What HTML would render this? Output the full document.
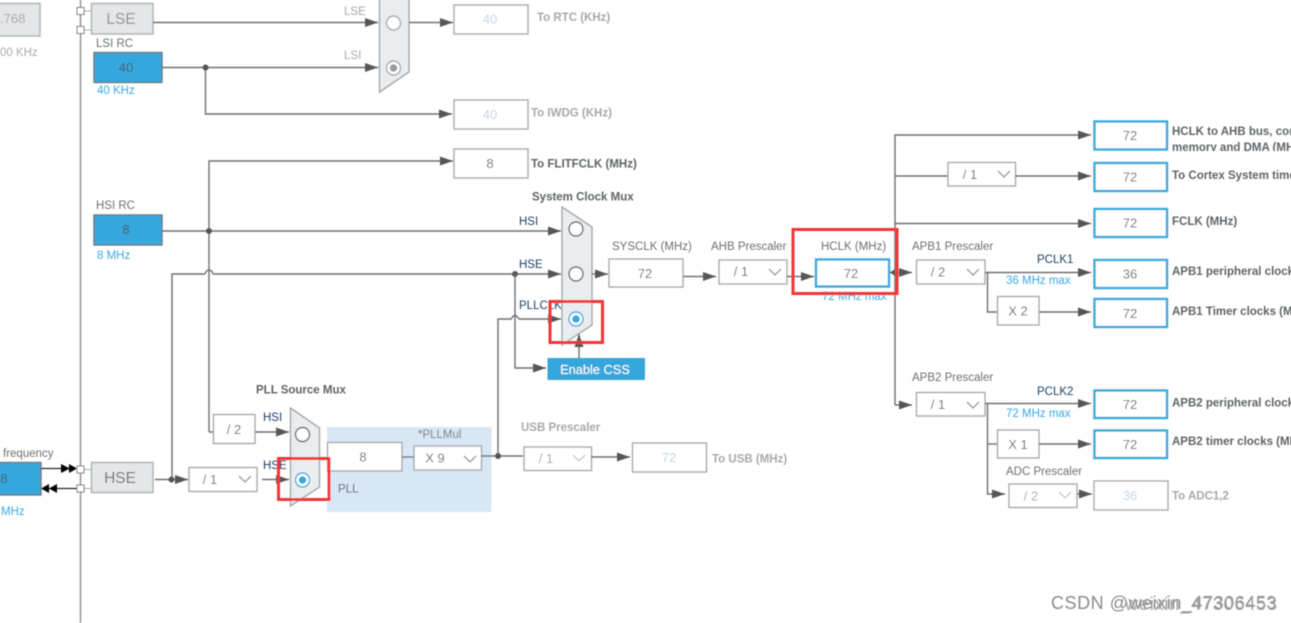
<!DOCTYPE html>
<html>
<head>
<meta charset="utf-8">
<style>
html,body{margin:0;padding:0;background:#fff;width:1291px;height:623px;overflow:hidden}
svg{display:block}
text{font-family:"Liberation Sans",sans-serif;font-size:11.5px;fill:#6b6f72}
.b{font-weight:bold;fill:#5f6366}
.n{font-size:13px;fill:#6a6a6a}
.d{fill:#c3d3e6;font-size:13px}
.g{fill:#a5a8aa}
.gb{fill:#a5a8aa;font-weight:bold}
.c{fill:#39a9e0}
.k{fill:#1f3f66}
.m{text-anchor:middle}
.ln{fill:none;stroke:#6f6f6f;stroke-width:1.4}
.box{fill:#fff;stroke:#a5a9ab;stroke-width:1.4}
.bb{fill:#fff;stroke:#39a9dc;stroke-width:2.4}
.blue{fill:#36a7dc;stroke:#6d7a82;stroke-width:1.4}
.gr{fill:#e4e6e8;stroke:#abafb1;stroke-width:1.4}
.mux{fill:#e9edf0;stroke:#a2a6a9;stroke-width:1.4}
.red{fill:none;stroke:#f23434;stroke-width:3}
.ch{fill:none;stroke:#8b8f92;stroke-width:1.3}
.ch2{fill:none;stroke:#c2c5c7;stroke-width:1.3}
</style>
</head>
<body>
<svg width="1291" height="623" viewBox="0 0 1291 623" xmlns="http://www.w3.org/2000/svg">
<defs>
<marker id="a" markerUnits="userSpaceOnUse" markerWidth="14" markerHeight="11" refX="13" refY="5.5" orient="auto"><path d="M0 1L13 5.500L0 10z" fill="#565656"/></marker>
<clipPath id="cl"><rect x="1160" y="120" width="131" height="31"/></clipPath>
<filter id="bl" x="0" y="0" width="100%" height="100%"><feGaussianBlur stdDeviation="0.5"/></filter>
</defs>
<rect width="1291" height="623" fill="#fff"/>
<g filter="url(#bl)">
<!-- PLL background -->
<rect x="327" y="427" width="164.500" height="85" fill="#d8e7f5"/>

<!-- main bus -->
<line x1="80.500" y1="0" x2="80.500" y2="623" stroke="#8b8f92" stroke-width="1.4"/>

<!-- LSE/LSI section -->
<rect x="-30" y="3.500" width="70" height="32.500" class="gr"/>
<text x="0" y="23" class="n g">.768</text>
<text x="0" y="56" class="g">00 KHz</text>
<line x1="84" y1="11" x2="92" y2="11" stroke="#aaa"/>
<line x1="84" y1="30" x2="92" y2="30" stroke="#aaa"/>
<rect x="77" y="7.500" width="7" height="7" fill="#fff" stroke="#777"/>
<rect x="77" y="26.500" width="7" height="7" fill="#fff" stroke="#777"/>
<rect x="91.500" y="3.500" width="61.500" height="30.500" class="gr"/>
<text x="121" y="24" class="m" style="font-size:15.500px;fill:#8f9396">LSE</text>
<text x="96" y="47">LSI RC</text>
<rect x="94" y="52.500" width="68" height="30" class="blue"/>
<text x="126" y="72" class="m n" style="fill:#44606f">40</text>
<text x="97" y="94" class="c">40 KHz</text>
<path class="ln" d="M153 22.500H378" marker-end="url(#a)"/>
<path class="ln" d="M162 67.500H378" marker-end="url(#a)"/>
<path class="ln" d="M205.500 67.500V114H452" marker-end="url(#a)"/>
<circle cx="205.500" cy="67.500" r="3" fill="#555"/>
<text x="344" y="15" class="g">LSE</text>
<text x="344" y="59" class="g">LSI</text>
<path class="mux" d="M379.500 -20H409V72L379.500 92z"/>
<circle cx="393.500" cy="23" r="7" fill="#fff" stroke="#a5a9ab" stroke-width="1.400"/>
<circle cx="393.500" cy="68" r="7" fill="#fff" stroke="#a5a9ab" stroke-width="1.400"/>
<circle cx="393.500" cy="68" r="3.800" fill="#9a9ea1"/>
<path class="ln" d="M409 22.500H453" marker-end="url(#a)"/>
<rect x="454" y="5" width="74" height="29" class="box"/>
<text x="490" y="23.500" class="m d">40</text>
<text x="537" y="21" class="gb">To RTC (KHz)</text>
<rect x="454" y="100" width="74" height="29" class="box"/>
<text x="490" y="119" class="m d">40</text>
<text x="531" y="116.500" class="gb">To IWDG (KHz)</text>

<!-- FLITF & HSI -->
<path class="ln" d="M209 432H213M209 432V161H453" marker-end="url(#a)"/>
<rect x="454" y="149" width="74" height="29" class="box"/>
<text x="490" y="168" class="m n">8</text>
<text x="531" y="167.500" class="b">To FLITFCLK (MHz)</text>
<text x="96" y="209">HSI RC</text>
<rect x="94" y="215" width="68" height="30" class="blue"/>
<text x="126" y="234" class="m n" style="fill:#44606f">8</text>
<text x="97" y="259" class="c">8 MHz</text>
<path class="ln" d="M162 231H561" marker-end="url(#a)"/>
<circle cx="209" cy="231" r="3" fill="#555"/>
<text x="519" y="225" class="k">HSI</text>
<path class="ln" d="M172 479.500V274H204.500C205.500 274 205.500 270 209 270C212.500 270 212.500 274 213.500 274H561" marker-end="url(#a)"/>
<text x="519" y="268" class="k">HSE</text>
<circle cx="515" cy="274" r="3" fill="#555"/>
<path class="ln" d="M515 274V368H546" marker-end="url(#a)"/>
<path class="ln" d="M498 456V319H511C512 319 512 315.500 515 315.500C518 315.500 518 319 519 319H561" marker-end="url(#a)"/>
<text x="519" y="309" class="k">PLLCLK</text>
<text x="532" y="200.500" class="b">System Clock Mux</text>

<!-- System clock mux -->
<path class="mux" d="M562 207L592 227V325L562 345z"/>
<circle cx="576" cy="229" r="7" fill="#fff" stroke="#666" stroke-width="1.400"/>
<circle cx="576" cy="274" r="7" fill="#fff" stroke="#666" stroke-width="1.400"/>
<circle cx="576" cy="319" r="7" fill="#fff" stroke="#39a9dc" stroke-width="1.400"/>
<circle cx="576" cy="319" r="3.800" fill="#39a9dc"/>
<rect x="547.500" y="358" width="97.500" height="22" fill="#36a7dc"/>
<text x="595" y="374" class="m" style="fill:#fff;font-size:12.800px">Enable CSS</text>
<path class="ln" d="M579 358V334" marker-end="url(#a)"/>
<path class="ln" d="M592 274H608" marker-end="url(#a)"/>

<rect x="609" y="259" width="74" height="28" class="box"/>
<text x="645" y="278" class="m n">72</text>
<text x="612" y="250">SYSCLK (MHz)</text>
<path class="ln" d="M683 276.500H716" marker-end="url(#a)"/>
<rect x="719" y="260" width="68" height="24" class="box"/>
<text x="741" y="276" class="m n">/ 1</text>
<path class="ch" d="M769 269L775 275L781 269"/>
<text x="711" y="250">AHB Prescaler</text>
<path class="ln" d="M787 276.500H814" marker-end="url(#a)"/>
<rect x="816" y="259.500" width="73" height="27" class="bb"/>
<text x="851" y="278" class="m n">72</text>
<text x="821" y="250">HCLK (MHz)</text>
<text x="822" y="300" class="c">72 MHz max</text>

<!-- Right bus -->
<path class="ln" d="M895 405V135H1091" marker-end="url(#a)"/>
<path class="ln" d="M895 176H948"/>
<rect x="948" y="162.500" width="67.500" height="23.500" class="box"/>
<text x="970" y="179" class="m n">/ 1</text>
<path class="ch" d="M998 171L1004 177L1010 171"/>
<path class="ln" d="M1015 176H1091" marker-end="url(#a)"/>
<path class="ln" d="M895 223.500H1091" marker-end="url(#a)"/>
<path class="ln" d="M889 272.500H895"/>
<path d="M890 272.500L895 269L895 276z" fill="#565656"/>
<path class="ln" d="M895 272.500H912" marker-end="url(#a)"/>
<path class="ln" d="M895 405H912" marker-end="url(#a)"/>

<rect x="1094.500" y="121.500" width="72.500" height="28" class="bb"/>
<text x="1130" y="140" class="m n">72</text>
<g clip-path="url(#cl)">
<text x="1172" y="135" class="b">HCLK to AHB bus, core,</text>
<text x="1172" y="151" class="b">memory and DMA (MHz)</text>
</g>
<rect x="1094.500" y="163" width="72.500" height="28" class="bb"/>
<text x="1130" y="181.500" class="m n">72</text>
<text x="1172" y="179" class="b">To Cortex System timer (MHz)</text>
<rect x="1094.500" y="209" width="72.500" height="28" class="bb"/>
<text x="1130" y="227.500" class="m n">72</text>
<text x="1172" y="225" class="b">FCLK (MHz)</text>

<!-- APB1 -->
<text x="912" y="250">APB1 Prescaler</text>
<rect x="916.500" y="260" width="68.500" height="24" class="box"/>
<text x="938" y="276.500" class="m n">/ 2</text>
<path class="ch" d="M967 269L973 275L979 269"/>
<path class="ln" d="M985 272.500H1091" marker-end="url(#a)"/>
<text x="1037" y="263" class="k">PCLK1</text>
<text x="1006" y="284" class="c">36 MHz max</text>
<rect x="1094.500" y="260" width="72.500" height="28" class="bb"/>
<text x="1130" y="278.500" class="m n">36</text>
<text x="1172" y="275" class="b">APB1 peripheral clocks (MHz)</text>
<path class="ln" d="M987.500 272.500V312H997"/>
<rect x="997.500" y="296.500" width="41.500" height="28.500" class="box"/>
<text x="1018" y="315.500" class="m n">X 2</text>
<path class="ln" d="M1039 312H1091" marker-end="url(#a)"/>
<rect x="1094.500" y="299" width="72.500" height="28" class="bb"/>
<text x="1130" y="318" class="m n">72</text>
<text x="1172" y="315" class="b">APB1 Timer clocks (MHz)</text>

<!-- APB2 -->
<text x="912" y="381">APB2 Prescaler</text>
<rect x="916.500" y="392.500" width="68.500" height="23.500" class="box"/>
<text x="938" y="409" class="m n">/ 1</text>
<path class="ch" d="M967 402L973 408L979 402"/>
<path class="ln" d="M985 403.500H1091" marker-end="url(#a)"/>
<text x="1037" y="395" class="k">PCLK2</text>
<text x="1006" y="417" class="c">72 MHz max</text>
<rect x="1094.500" y="390.500" width="72.500" height="27.500" class="bb"/>
<text x="1130" y="409" class="m n">72</text>
<text x="1172" y="406.500" class="b">APB2 peripheral clocks (MHz)</text>
<path class="ln" d="M987.500 403.500V494H1005" marker-end="url(#a)"/>
<path class="ln" d="M987.500 444H997"/>
<rect x="997.500" y="430" width="41.500" height="28" class="box"/>
<text x="1018" y="449" class="m n">X 1</text>
<path class="ln" d="M1039 444H1091" marker-end="url(#a)"/>
<rect x="1094.500" y="430.500" width="72.500" height="27.500" class="bb"/>
<text x="1130" y="449" class="m n">72</text>
<text x="1172" y="445" class="b">APB2 timer clocks (MHz)</text>
<text x="1006" y="475">ADC Prescaler</text>
<rect x="1009" y="484" width="68" height="23.500" class="box"/>
<text x="1031" y="500.500" class="m n g">/ 2</text>
<path class="ch2" d="M1059 492L1065 498L1071 492"/>
<path class="ln" d="M1077 494H1092" marker-end="url(#a)"/>
<rect x="1094" y="481" width="74" height="29" class="box"/>
<text x="1130" y="500" class="m d">36</text>
<text x="1172" y="499.500" class="gb">To ADC1,2</text>

<!-- PLL -->
<text x="256" y="393.500" class="b">PLL Source Mux</text>
<rect x="213.500" y="414.500" width="41.500" height="29" class="box"/>
<text x="234" y="434" class="m n">/ 2</text>
<path class="ln" d="M255 432H289" marker-end="url(#a)"/>
<text x="263" y="421" class="k">HSI</text>
<text x="263" y="469" class="k">HSE</text>
<path class="mux" d="M290.500 408L319.500 428V487L290.500 506z"/>
<circle cx="302.500" cy="434.500" r="7" fill="#fff" stroke="#666" stroke-width="1.400"/>
<circle cx="302.500" cy="480" r="7" fill="#fff" stroke="#39a9dc" stroke-width="1.400"/>
<circle cx="302.500" cy="480" r="3.800" fill="#39a9dc"/>
<path class="ln" d="M262 479.500H289" marker-end="url(#a)"/>

<rect x="-30" y="462.500" width="71" height="32.500" class="blue"/>
<text x="4" y="483" class="m n" style="fill:#44606f">8</text>
<text x="3" y="457">frequency</text>
<text x="1" y="515" class="c">MHz</text>
<path d="M41 468.500H70" stroke="#222" stroke-width="1.200"/>
<path d="M61 464L70 468.500L61 473zM69 464L77 468.500L69 473z" fill="#000"/>
<path d="M46 488.500H77" stroke="#222" stroke-width="1.200"/>
<path d="M49 484L41 488.500L49 493zM57 484L49 488.500L57 493z" fill="#000"/>
<line x1="84" y1="469.500" x2="92" y2="469.500" stroke="#aaa"/>
<line x1="84" y1="488.500" x2="92" y2="488.500" stroke="#aaa"/>
<rect x="77" y="466" width="7" height="7" fill="#fff" stroke="#777"/>
<rect x="77" y="485" width="7" height="7" fill="#fff" stroke="#777"/>
<rect x="91.500" y="462.500" width="61.500" height="30" class="gr"/>
<text x="120" y="483" class="m" style="font-size:15.500px;fill:#6f7376">HSE</text>
<path class="ln" d="M155 479.500H188" marker-end="url(#a)"/>
<circle cx="171.500" cy="479.500" r="3" fill="#555"/>
<rect x="189" y="467.500" width="68" height="24" class="box"/>
<text x="210" y="484" class="m n">/ 1</text>
<path class="ch" d="M239 476L245 482L251 476"/>

<rect x="327.500" y="442.500" width="74.500" height="28.500" class="box"/>
<text x="363" y="461.500" class="m n">8</text>
<path class="ln" d="M402 457H414"/>
<rect x="414" y="446" width="67.500" height="24" class="box"/>
<text x="435" y="462.500" class="m n">X 9</text>
<path class="ch" d="M464 456L470 462L476 456"/>
<text x="418" y="438" style="fill:#777">*PLLMul</text>
<text x="338" y="492.500" style="fill:#555">PLL</text>
<path class="ln" d="M481 456H523"/>
<circle cx="498" cy="456" r="3" fill="#555"/>
<text x="521" y="431" class="gb">USB Prescaler</text>
<rect x="524" y="447" width="67.500" height="23.500" class="box"/>
<text x="546" y="463" class="m n g">/ 1</text>
<path class="ch2" d="M573 455L579 461L585 455"/>
<path class="ln" d="M591 457H630" marker-end="url(#a)"/>
<rect x="632.500" y="443" width="74" height="29" class="box"/>
<text x="669" y="462" class="m d">72</text>
<text x="712" y="462.500" class="gb">To USB (MHz)</text>

<!-- Red highlight boxes -->
<rect x="793" y="229.500" width="104" height="64" class="red"/>
<rect x="550" y="301.500" width="52.500" height="41" class="red"/>
<rect x="278.500" y="458.500" width="50.500" height="41" class="red"/>

<!-- Watermark -->
<text x="1051" y="609" style="font-size:18px;fill:#8a8a8a;letter-spacing:.55px">CSDN @weixin_47306453</text>
<text x="1125" y="610" style="font-size:18px;fill:#a0a0a0;letter-spacing:.85px">weixin_47306453</text>
</g>
</svg>
</body>
</html>
